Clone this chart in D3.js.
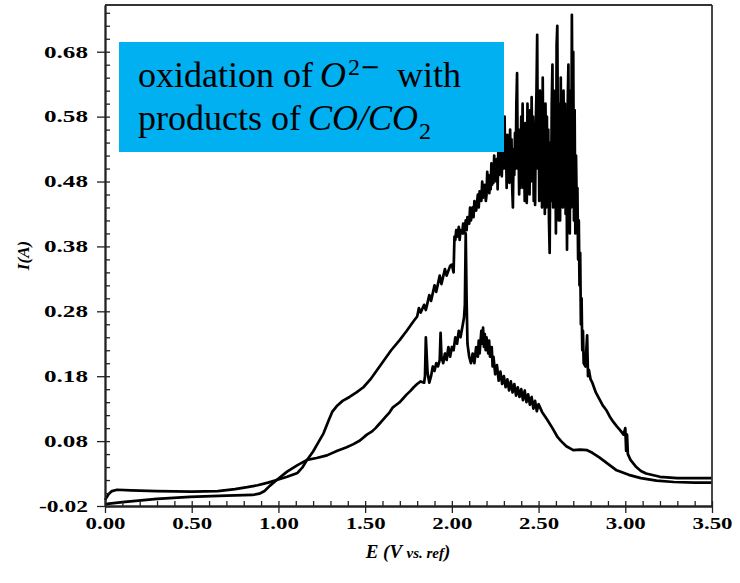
<!DOCTYPE html>
<html>
<head>
<meta charset="utf-8">
<script src="https://cdn.jsdelivr.net/npm/d3@7"></script>
<style>
  html, body { margin: 0; padding: 0; background: #fff; }
  svg { display: block; }
</style>
</head>
<body>
<svg id="chart" width="740" height="583"></svg>
<script>
// ---------------- DATA ----------------
const xTicks = [0, 0.5, 1.0, 1.5, 2.0, 2.5, 3.0, 3.5];
const yTicks = [-0.02, 0.08, 0.18, 0.28, 0.38, 0.48, 0.58, 0.68];
const xLabel = "E (V vs. ref)";
const yLabel = "I(A)";

// forward (anodic) sweep: potential E (V) and current I (A)
const forwardE = [
  0.00,0.02,0.04,0.07,0.15,0.30,0.50,0.65,0.75,0.82,0.88,0.94,0.99,1.05,1.11,1.14,1.165,1.20,1.23,1.26,
  1.29,1.31,1.34,1.37,1.41,1.45,1.49,1.53,1.57,1.61,1.65,1.70,1.74,1.78,1.80,1.81,1.82,1.84,1.85,1.87,
  1.88,1.90,1.91,1.93,1.94,1.96,1.97,1.99,2.00,2.01,2.015,2.02,2.025,2.03,2.04,2.045,2.05,2.06,2.065,2.07,
  2.08,2.085,2.09,2.10,2.105,2.11,2.12,2.125,2.13,2.14,2.15,2.155,2.16,2.17,2.175,2.18,2.19,2.196,
  2.200,2.204,2.208,2.212,2.216,2.220,2.224,2.228,2.232,2.236,2.240,2.244,2.248,2.252,2.256,2.260,2.264,2.268,2.272,2.276,
  2.280,2.284,2.288,2.292,2.296,2.300,2.304,2.308,2.312,2.316,2.320,2.324,2.328,2.332,2.336,2.340,2.344,2.348,2.352,2.356,
  2.360,2.364,2.368,2.372,2.376,2.380,2.384,2.388,2.392,2.396,2.400,2.404,2.408,2.412,2.416,2.420,2.424,2.428,2.432,2.436,
  2.440,2.444,2.448,2.452,2.456,2.460,2.464,2.468,2.472,2.476,2.480,2.484,2.488,2.492,2.496,2.500,2.504,2.508,2.512,2.516,
  2.520,2.524,2.528,2.532,2.536,2.540,2.544,2.548,2.552,2.556,2.560,2.564,2.568,2.572,2.576,2.580,2.584,2.588,2.592,2.596,
  2.600,2.604,2.608,2.612,2.616,2.620,2.624,2.628,2.632,2.636,2.640,2.644,2.648,2.652,2.656,2.660,2.664,2.668,2.672,2.676,
  2.680,2.684,2.688,2.692,2.696,2.700,2.704,2.708,2.712,2.716,2.720,2.724,2.728,2.732,2.736,2.740,2.744,2.748,2.752,2.756,
  2.760,2.770,2.780,2.785,2.790,2.800,2.810,2.830,2.850,
  2.87,2.89,2.91,2.93,2.95,2.97,2.99,3.00,3.005,3.01,3.015,3.03,3.06,3.09,3.12,3.20,3.30,3.40,3.50
];
const forwardI = [
  -0.011,-0.002,0.003,0.005,0.004,0.003,0.002,0.003,0.006,0.009,0.012,0.016,0.020,0.025,0.031,0.040,0.051,0.064,0.078,0.092,
  0.112,0.125,0.135,0.142,0.148,0.155,0.163,0.175,0.190,0.205,0.220,0.236,0.250,0.265,0.272,0.285,0.278,0.290,0.282,0.305,
  0.296,0.320,0.310,0.335,0.322,0.345,0.335,0.350,0.352,0.340,0.395,0.390,0.405,0.395,0.410,0.390,0.405,0.400,0.415,0.400,
  0.420,0.405,0.425,0.415,0.440,0.420,0.440,0.425,0.450,0.435,0.460,0.440,0.465,0.450,0.480,0.455,0.475,0.450,
  0.460,0.495,0.470,0.490,0.462,0.488,0.468,0.508,0.475,0.500,0.478,0.520,0.485,0.512,0.480,0.515,0.468,0.530,0.490,0.525,
  0.495,0.545,0.488,0.530,0.500,0.535,0.580,0.500,0.548,0.470,0.552,0.485,0.540,0.478,0.560,0.495,0.545,0.470,0.440,0.530,
  0.490,0.555,0.500,0.600,0.647,0.500,0.550,0.460,0.560,0.470,0.580,0.500,0.600,0.470,0.560,0.450,0.570,0.470,0.447,0.600,
  0.480,0.580,0.460,0.590,0.480,0.610,0.500,0.580,0.450,0.560,0.444,0.570,0.620,0.706,0.500,0.600,0.450,0.620,0.470,0.580,
  0.440,0.640,0.470,0.590,0.430,0.600,0.440,0.580,0.450,0.560,0.420,0.370,0.540,0.450,0.600,0.660,0.440,0.620,0.470,0.580,
  0.400,0.690,0.720,0.520,0.420,0.600,0.420,0.640,0.460,0.600,0.440,0.620,0.450,0.600,0.430,0.560,0.375,0.600,0.660,0.460,
  0.400,0.620,0.440,0.737,0.560,0.680,0.420,0.590,0.400,0.520,0.440,0.470,0.360,0.420,0.320,0.370,0.260,0.300,0.220,0.250,
  0.200,0.195,0.243,0.180,0.190,0.175,0.170,0.155,0.145,
  0.135,0.128,0.118,0.110,0.103,0.097,0.090,0.100,0.065,0.090,0.060,0.051,0.041,0.034,0.030,0.025,0.023,0.023,0.023
];

// reverse (cathodic) sweep
const reverseE = [
  3.50,3.40,3.28,3.18,3.09,3.02,2.95,2.90,2.85,2.81,2.78,2.74,2.70,2.66,2.63,2.61,2.58,2.55,2.52,2.50,
  2.49,2.48,2.47,2.46,2.45,2.44,2.43,2.42,2.41,2.40,2.39,2.38,2.37,2.36,2.35,2.34,2.33,2.32,2.31,2.30,
  2.29,2.28,2.27,2.26,2.25,2.24,2.235,2.23,2.22,2.215,2.21,2.20,2.195,2.19,2.185,2.18,2.175,2.17,2.16,2.155,
  2.15,2.14,2.13,2.12,2.11,2.10,2.09,2.085,2.08,2.075,2.07,2.06,2.05,2.04,2.03,2.02,2.01,2.00,1.99,1.98,
  1.97,1.96,1.95,1.94,1.935,1.93,1.92,1.91,1.90,1.89,1.88,1.87,1.86,1.85,1.845,1.84,1.82,1.80,1.78,1.76,
  1.74,1.72,1.70,1.68,1.66,1.64,1.62,1.60,1.58,1.56,1.54,1.51,1.47,1.43,1.39,1.34,1.28,1.22,1.165,1.11,
  1.05,0.99,0.95,0.92,0.89,0.85,0.70,0.49,0.30,0.10,0.00
];
const reverseI = [
  0.016,0.016,0.017,0.019,0.023,0.028,0.035,0.045,0.055,0.062,0.066,0.067,0.066,0.072,0.080,0.086,0.100,0.113,0.125,0.137,
  0.126,0.142,0.130,0.148,0.136,0.152,0.140,0.158,0.143,0.160,0.148,0.163,0.150,0.168,0.155,0.172,0.158,0.175,0.163,0.180,
  0.168,0.187,0.173,0.197,0.183,0.210,0.195,0.225,0.210,0.235,0.215,0.240,0.220,0.245,0.225,0.255,0.230,0.250,0.215,0.235,
  0.210,0.225,0.200,0.215,0.200,0.210,0.230,0.300,0.400,0.290,0.270,0.255,0.240,0.250,0.230,0.240,0.220,0.225,0.210,0.225,
  0.205,0.215,0.200,0.210,0.247,0.205,0.195,0.200,0.188,0.195,0.180,0.170,0.185,0.240,0.180,0.170,0.172,0.168,0.163,0.157,
  0.152,0.146,0.140,0.136,0.132,0.124,0.118,0.112,0.106,0.100,0.095,0.090,0.081,0.075,0.070,0.065,0.058,0.054,0.051,0.043,
  0.033,0.020,0.011,0.003,-0.001,-0.003,-0.004,-0.006,-0.009,-0.014,-0.017
];

// ---------------- CHART ----------------
const svg = d3.select("#chart");
const x = d3.scaleLinear().domain([0, 3.5]).range([105, 712]);
const y = d3.scaleLinear().domain([-0.02, 0.752]).range([506, 5]);

const serif = "'Liberation Serif', 'Times New Roman', serif";

// curves
const line = d3.line().x(d => x(d[0])).y(d => y(d[1]));
const fwd = forwardE.map((e, i) => [e, forwardI[i]]);
const rev = reverseE.map((e, i) => [e, reverseI[i]]);
[fwd, rev].forEach(data => {
  svg.append("path")
    .datum(data)
    .attr("d", line)
    .attr("fill", "none")
    .attr("stroke", "#000")
    .attr("stroke-width", 2.7)
    .attr("stroke-linejoin", "round");
});

// frame (top & right)
svg.append("line").attr("x1", x(0)).attr("x2", x(3.5)).attr("y1", y(0.752)).attr("y2", y(0.752))
  .attr("stroke", "#333").attr("stroke-width", 1.8);
svg.append("line").attr("x1", x(3.5)).attr("x2", x(3.5)).attr("y1", y(0.752)).attr("y2", y(-0.02))
  .attr("stroke", "#333").attr("stroke-width", 1.8);

// minor tick values
const xMinor = d3.range(0, 36).map(i => i / 10);
const yMinor = d3.range(0, 39).map(i => -0.02 + i * 0.02);

// X axis: inside minor + major ticks
const gxIn = svg.append("g").attr("transform", `translate(0,${y(-0.02)})`)
  .call(d3.axisBottom(x).tickValues(xMinor).tickSizeInner(-5).tickSizeOuter(0).tickFormat(""));
// X axis: outside major ticks with labels
const gx = svg.append("g").attr("transform", `translate(0,${y(-0.02)})`)
  .call(d3.axisBottom(x).tickValues(xTicks).tickSizeInner(7).tickSizeOuter(0).tickPadding(4)
    .tickFormat(d => d.toFixed(2)));
gx.selectAll("text").attr("font-family", serif).attr("font-weight", "bold")
  .attr("font-size", 16.5).attr("fill", "#000")
  .attr("textLength", 40).attr("lengthAdjust", "spacingAndGlyphs");

// Y axis: inside minor ticks
const gyIn = svg.append("g").attr("transform", `translate(${x(0)},0)`)
  .call(d3.axisLeft(y).tickValues(yMinor).tickSizeInner(-5).tickSizeOuter(0).tickFormat(""));
// Y axis: outside major ticks with labels
const gy = svg.append("g").attr("transform", `translate(${x(0)},0)`)
  .call(d3.axisLeft(y).tickValues(yTicks).tickSizeInner(8).tickSizeOuter(0).tickPadding(9)
    .tickFormat(d => d.toFixed(2)));
gy.selectAll("text").attr("font-family", serif).attr("font-weight", "bold")
  .attr("font-size", 16.5).attr("fill", "#000")
  .attr("textLength", d => d < 0 ? 49 : 44).attr("lengthAdjust", "spacingAndGlyphs");

[gxIn, gx, gyIn, gy].forEach(g => {
  g.selectAll("line").attr("stroke", "#222").attr("stroke-width", 1.3);
  g.select(".domain").attr("stroke", "#222").attr("stroke-width", 1.8);
});

// axis titles
svg.append("text")
  .attr("transform", `translate(29,${(y(0.752) + y(-0.02)) / 2}) rotate(-90)`)
  .attr("text-anchor", "middle")
  .attr("font-family", serif).attr("font-style", "italic").attr("font-weight", "bold")
  .attr("font-size", 17)
  .text(yLabel);

const xt = svg.append("text")
  .attr("x", 408)
  .attr("y", 558)
  .attr("text-anchor", "middle")
  .attr("font-family", serif).attr("font-style", "italic").attr("font-weight", "bold")
  .attr("font-size", 19);
xt.append("tspan").text("E (V ");
xt.append("tspan").attr("font-size", 15).text("vs. ref");
xt.append("tspan").text(")");

// annotation box
const box = svg.append("g");
box.append("rect").attr("x", 119).attr("y", 42).attr("width", 385).attr("height", 110)
  .attr("fill", "#00B0F0");
const t1 = box.append("text").attr("x", 138).attr("y", 87)
  .attr("font-family", serif).attr("font-size", 36).attr("fill", "#000");
t1.append("tspan").text("oxidation of ");
t1.append("tspan").attr("x", 320).attr("font-style", "italic").text("O");
t1.append("tspan").attr("x", 348).attr("font-size", 24).attr("dy", -12).text("2");
t1.append("tspan").attr("x", 360).attr("font-size", 24).attr("font-family", "'DejaVu Sans', sans-serif").text("−");
t1.append("tspan").attr("x", 397).attr("dy", 12).text("with");
const t2 = box.append("text").attr("x", 138).attr("y", 130)
  .attr("font-family", serif).attr("font-size", 36).attr("fill", "#000");
t2.append("tspan").text("products of ");
t2.append("tspan").attr("x", 308).attr("font-style", "italic").text("CO/CO");
t2.append("tspan").attr("x", 419).attr("font-size", 24).attr("dy", 9).text("2");
</script>
</body>
</html>
